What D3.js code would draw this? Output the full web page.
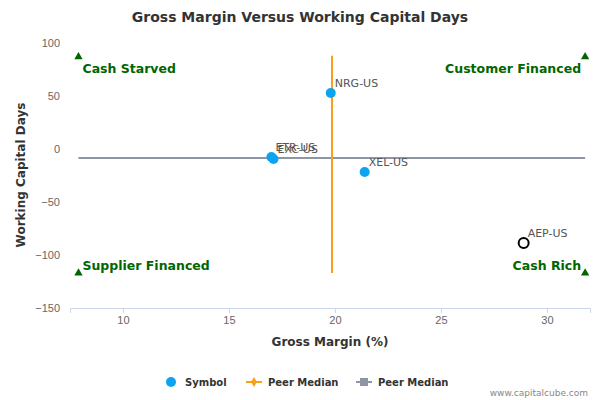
<!DOCTYPE html><html><head><meta charset="utf-8"><script src="https://cdn.jsdelivr.net/npm/d3@7"></script>
<style>body{margin:0}svg{font-family:"DejaVu Sans",sans-serif}</style></head><body><svg id="c" width="600" height="400"></svg>
<script>
const symbols=["NRG-US","ETR-US","EXC-US","XEL-US","AEP-US"];
const grossMargin=[19.8,17.0,17.1,21.4,28.9];
const wcDays=[52.8,-7.5,-9.5,-21.7,-88.7];
const highlight=[false,false,false,false,true];
const medianX=19.86, medianY=-8.5;
const vLineY=[88,-117], hLineX=[7.9,31.8];
const xTicks=[10,15,20,25,30], yTicks=[100,50,0,-50,-100,-150];
const quadrants=[{t:"Cash Starved",x:7.9,y:87,a:"start",dy:16},{t:"Customer Financed",x:31.8,y:87,a:"end",dy:16},{t:"Supplier Financed",x:7.9,y:-117,a:"start",dy:-3},{t:"Cash Rich",x:31.8,y:-117,a:"end",dy:-3}];
const svg=d3.select("#c");
const L=70,R=590,T=43,B=308;
const x=d3.scaleLinear().domain([7.5,32.03]).range([L,R]);
const y=d3.scaleLinear().domain([-150,100]).range([B,T]);
svg.append("text").attr("x",300).attr("y",22).attr("text-anchor","middle").attr("font-size",14).attr("font-weight","bold").attr("fill","#333").text("Gross Margin Versus Working Capital Days");
const xa=svg.append("g").attr("transform",`translate(0,${B})`).call(d3.axisBottom(x).tickValues(xTicks).tickSize(5));
xa.select(".domain").attr("stroke","#ccd6eb");xa.selectAll(".tick line").attr("stroke","#ccd6eb");
xa.selectAll("text").attr("font-size",11).attr("fill","#666");
const ya=svg.append("g").attr("transform",`translate(${L},0)`).call(d3.axisLeft(y).tickValues(yTicks).tickSize(0).tickPadding(10));
ya.select(".domain").remove();ya.selectAll("text").attr("font-size",11).attr("fill","#666");
svg.append("text").attr("x",330).attr("y",346).attr("text-anchor","middle").attr("font-size",12).attr("font-weight","bold").attr("fill","#333").text("Gross Margin (%)");
svg.append("text").attr("transform","translate(25,175) rotate(-90)").attr("text-anchor","middle").attr("font-size",12).attr("font-weight","bold").attr("fill","#333").text("Working Capital Days");
svg.append("line").attr("x1",x(hLineX[0])).attr("x2",x(hLineX[1])).attr("y1",y(medianY)).attr("y2",y(medianY)).attr("stroke","#8e96a6").attr("stroke-width",2);
svg.append("line").attr("x1",x(medianX)).attr("x2",x(medianX)).attr("y1",y(vLineY[0])).attr("y2",y(vLineY[1])).attr("stroke","#f7a11a").attr("stroke-width",2);
quadrants.forEach(q=>{
 svg.append("path").attr("d",d3.symbol(d3.symbolTriangle,30)()).attr("transform",`translate(${x(q.x)},${y(q.y)})`).attr("fill","#006600");
 svg.append("text").attr("x",x(q.x)+(q.a=="start"?4:-4)).attr("y",y(q.y)+q.dy).attr("text-anchor",q.a).attr("font-size",12.5).attr("font-weight","bold").attr("fill","#006600").text(q.t);
});
symbols.forEach((s,i)=>{
 const cx=x(grossMargin[i]),cy=y(wcDays[i]);
 svg.append("circle").attr("cx",cx).attr("cy",cy).attr("r",5).attr("fill",highlight[i]?"#fff":"#0ca3f0").attr("stroke",highlight[i]?"#000":"none").attr("stroke-width",2);
 svg.append("text").attr("x",cx+4).attr("y",cy-6).attr("font-size",11).attr("fill","#555").text(s);
});
const lg=svg.append("g").attr("font-size",10).attr("font-weight","bold").attr("fill","#333");
lg.append("circle").attr("cx",171).attr("cy",382).attr("r",5).attr("fill","#0ca3f0");
lg.append("text").attr("x",185).attr("y",385.5).text("Symbol");
lg.append("line").attr("x1",246).attr("x2",262).attr("y1",382).attr("y2",382).attr("stroke","#f7a11a").attr("stroke-width",2);
lg.append("path").attr("d",d3.symbol(d3.symbolDiamond,30)()).attr("transform","translate(254,382)").attr("fill","#f7a11a");
lg.append("text").attr("x",268).attr("y",385.5).text("Peer Median");
lg.append("line").attr("x1",356).attr("x2",372).attr("y1",382).attr("y2",382).attr("stroke","#8e96a6").attr("stroke-width",2);
lg.append("rect").attr("x",360).attr("y",378).attr("width",8).attr("height",8).attr("fill","#8e96a6");
lg.append("text").attr("x",378).attr("y",385.5).text("Peer Median");
svg.append("text").attr("x",588).attr("y",396).attr("text-anchor","end").attr("font-size",9).attr("fill","#888").text("www.capitalcube.com");
</script></body></html>
